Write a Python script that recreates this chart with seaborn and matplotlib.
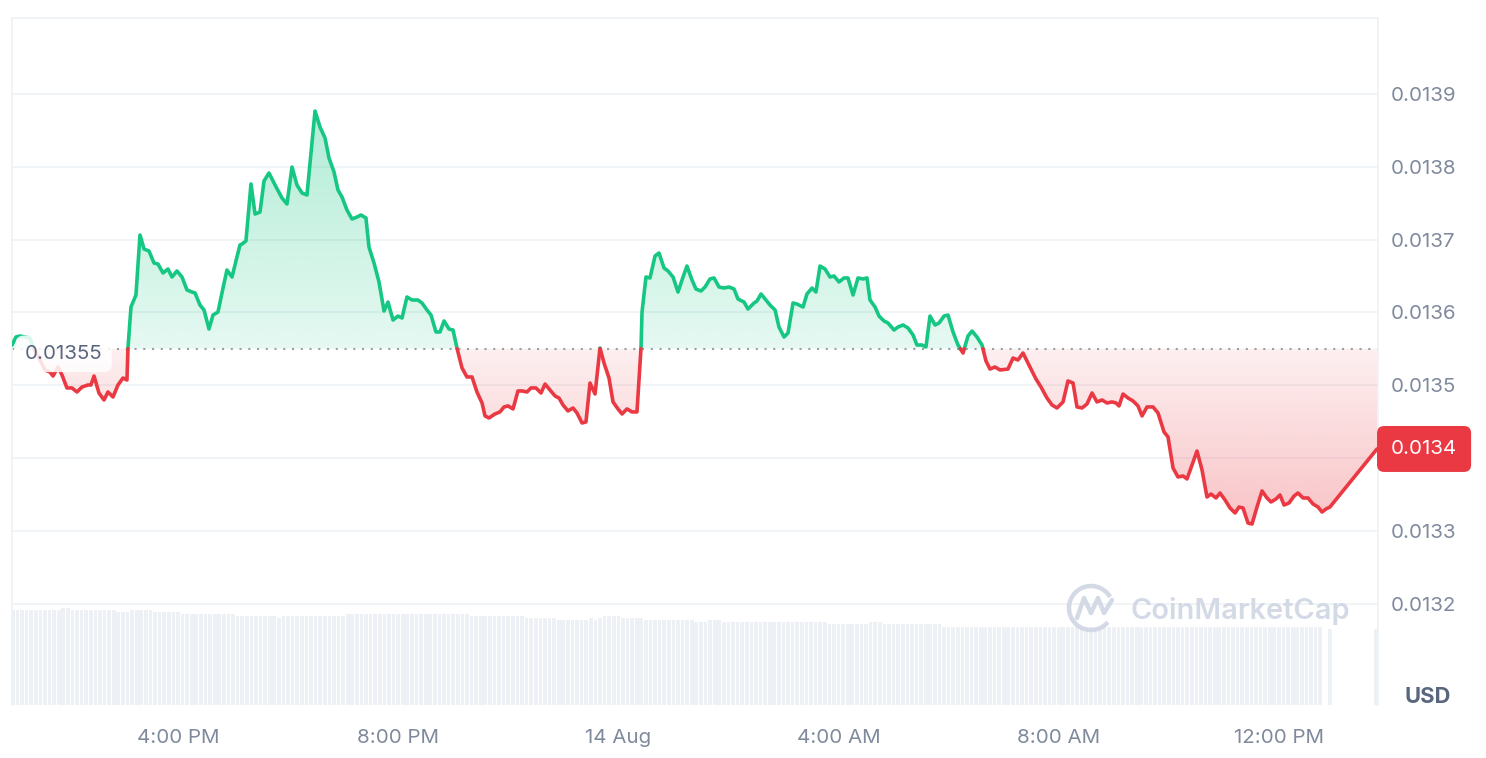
import numpy as np
import pandas as pd
import matplotlib
matplotlib.use("Agg")
import matplotlib.pyplot as plt
import matplotlib.colors as mcolors
import matplotlib.transforms as mtransforms
from matplotlib.path import Path
from matplotlib.patches import Arc
import seaborn as sns

# ---------------- data (time = minutes after 13 Aug 12:00) ----------------
minutes = [59.1, 63.4, 67.8, 78.7, 82.0, 89.6, 95.0, 100.5, 103.8, 109.2, 113.6, 119.0, 124.5, 129.9,
           135.4, 141.9, 145.2, 148.5, 153.9, 159.4, 163.7, 169.2, 174.6, 180.1, 184.4, 185.5, 188.8,
           194.2, 198.6, 203.0, 208.4, 213.9, 218.2, 223.7, 229.1, 233.5, 238.9, 244.4, 249.8, 255.3,
           258.6, 264.0, 268.4, 273.8, 278.2, 283.6, 289.1, 293.4, 298.9, 304.3, 307.6, 309.8, 314.1,
           319.6, 324.0, 329.4, 333.8, 339.2, 345.8, 353.4, 358.8, 364.3, 369.7, 375.2, 380.6, 389.4,
           394.8, 400.3, 404.6, 410.1, 414.4, 418.8, 424.2, 429.7, 435.1, 439.5, 444.9, 448.2, 453.7,
           459.1, 464.6, 468.9, 474.4, 479.8, 484.2, 489.6, 495.1, 501.6, 506.0, 511.4, 515.8, 521.2,
           525.6, 530.0, 535.4, 539.8, 544.1, 549.6, 555.0, 560.5, 565.9, 571.4, 574.7, 579.0, 585.6,
           591.0, 595.4, 599.7, 605.2, 610.6, 615.0, 620.4, 624.8, 630.2, 635.7, 640.1, 645.5, 651.0,
           655.3, 659.7, 665.1, 670.6, 674.9, 680.4, 684.7, 689.1, 694.6, 700.0, 704.4, 709.8, 714.2,
           719.6, 724.0, 729.4, 734.9, 740.3, 744.7, 745.8, 750.1, 754.5, 760.0, 764.3, 769.8, 774.1,
           779.6, 785.0, 790.5, 794.8, 800.3, 804.6, 810.1, 814.5, 819.9, 824.3, 829.7, 835.2, 840.6,
           846.1, 850.4, 857.0, 861.3, 867.9, 871.1, 875.5, 880.9, 885.3, 890.8, 895.1, 900.6, 904.9,
           910.4, 914.7, 921.3, 925.6, 931.1, 935.4, 939.8, 945.3, 950.7, 955.1, 960.5, 966.0, 970.3,
           975.8, 981.2, 986.7, 991.0, 994.3, 999.8, 1004.1, 1009.6, 1013.9, 1020.5, 1024.8, 1030.3,
           1035.7, 1041.2, 1045.5, 1051.0, 1055.3, 1059.7, 1065.2, 1069.5, 1075.0, 1079.3, 1084.8,
           1090.2, 1095.7, 1101.1, 1105.5, 1110.9, 1116.4, 1120.7, 1125.1, 1130.6, 1136.0, 1144.7,
           1150.2, 1155.6, 1161.1, 1166.5, 1175.2, 1180.7, 1187.2, 1192.7, 1198.1, 1204.7, 1210.1,
           1215.6, 1219.9, 1225.4, 1230.8, 1236.3, 1241.7, 1247.2, 1252.6, 1258.1, 1262.4, 1265.7,
           1270.1, 1275.5, 1281.0, 1286.4, 1290.8, 1296.2, 1302.8, 1308.2, 1314.8, 1319.1, 1324.6,
           1330.0, 1335.5, 1339.8, 1345.3, 1350.7, 1356.2, 1361.6, 1366.0, 1371.4, 1375.8, 1381.3,
           1386.7, 1392.2, 1396.5, 1400.9, 1406.3, 1410.7, 1416.1, 1421.6, 1427.0, 1431.4, 1436.8,
           1441.2, 1445.6, 1451.0, 1456.5, 1460.8, 1466.3, 1471.7, 1477.2, 1482.6, 1487.0, 1491.3,
           1495.6, 1546.9]

prices = [0.0135551, 0.0135661, 0.0135675, 0.0135647, 0.0135524, 0.0135345, 0.0135208, 0.0135180,
          0.0135125, 0.0135249, 0.0135139, 0.0134961, 0.0134961, 0.0134906, 0.0134974, 0.0135002,
          0.0135002, 0.0135125, 0.0134892, 0.0134796, 0.0134906, 0.0134837, 0.0135002, 0.0135098,
          0.0135070, 0.0135510, 0.0136073, 0.0136238, 0.0137062, 0.0136870, 0.0136842, 0.0136677,
          0.0136664, 0.0136540, 0.0136595, 0.0136485, 0.0136568, 0.0136485, 0.0136307, 0.0136279,
          0.0136266, 0.0136100, 0.0136032, 0.0135771, 0.0135963, 0.0136004, 0.0136334, 0.0136581,
          0.0136485, 0.0136760, 0.0136925, 0.0136938, 0.0136980, 0.0137763, 0.0137350, 0.0137378,
          0.0137804, 0.0137914, 0.0137749, 0.0137570, 0.0137488, 0.0137996, 0.0137749, 0.0137639,
          0.0137612, 0.0138765, 0.0138546, 0.0138394, 0.0138120, 0.0137927, 0.0137680, 0.0137584,
          0.0137405, 0.0137282, 0.0137309, 0.0137337, 0.0137296, 0.0136897, 0.0136677, 0.0136417,
          0.0136018, 0.0136141, 0.0135894, 0.0135949, 0.0135922, 0.0136211, 0.0136169, 0.0136169,
          0.0136128, 0.0136032, 0.0135963, 0.0135730, 0.0135730, 0.0135881, 0.0135771, 0.0135757,
          0.0135510, 0.0135235, 0.0135112, 0.0135112, 0.0134906, 0.0134755, 0.0134577, 0.0134549,
          0.0134604, 0.0134632, 0.0134700, 0.0134714, 0.0134673, 0.0134920, 0.0134920, 0.0134906,
          0.0134961, 0.0134961, 0.0134892, 0.0135015, 0.0134933, 0.0134851, 0.0134823, 0.0134727,
          0.0134645, 0.0134686, 0.0134618, 0.0134480, 0.0134494, 0.0135029, 0.0134878, 0.0135510,
          0.0135303, 0.0135098, 0.0134769, 0.0134673, 0.0134604, 0.0134673, 0.0134632, 0.0134632,
          0.0135510, 0.0136004, 0.0136485, 0.0136472, 0.0136774, 0.0136815, 0.0136609, 0.0136568,
          0.0136485, 0.0136279, 0.0136485, 0.0136636, 0.0136444, 0.0136320, 0.0136293, 0.0136348,
          0.0136458, 0.0136472, 0.0136348, 0.0136334, 0.0136348, 0.0136320, 0.0136183, 0.0136141,
          0.0136045, 0.0136128, 0.0136155, 0.0136252, 0.0136169, 0.0136100, 0.0136032, 0.0135798,
          0.0135661, 0.0135716, 0.0136128, 0.0136114, 0.0136073, 0.0136252, 0.0136334, 0.0136279,
          0.0136636, 0.0136595, 0.0136485, 0.0136499, 0.0136417, 0.0136472, 0.0136472, 0.0136238,
          0.0136472, 0.0136458, 0.0136472, 0.0136169, 0.0136073, 0.0135949, 0.0135881, 0.0135853,
          0.0135757, 0.0135798, 0.0135826, 0.0135785, 0.0135689, 0.0135551, 0.0135551, 0.0135524,
          0.0135949, 0.0135826, 0.0135853, 0.0135949, 0.0135963, 0.0135730, 0.0135551, 0.0135441,
          0.0135675, 0.0135743, 0.0135661, 0.0135551, 0.0135331, 0.0135221, 0.0135249, 0.0135208,
          0.0135221, 0.0135372, 0.0135345, 0.0135441, 0.0135303, 0.0135084, 0.0134974, 0.0134823,
          0.0134727, 0.0134686, 0.0134769, 0.0135057, 0.0135029, 0.0134700, 0.0134686, 0.0134741,
          0.0134892, 0.0134769, 0.0134796, 0.0134755, 0.0134769, 0.0134755, 0.0134714, 0.0134878,
          0.0134823, 0.0134782, 0.0134714, 0.0134577, 0.0134700, 0.0134700, 0.0134618, 0.0134356,
          0.0134288, 0.0133862, 0.0133738, 0.0133752, 0.0133711, 0.0133903, 0.0134095, 0.0133835,
          0.0133463, 0.0133504, 0.0133450, 0.0133518, 0.0133422, 0.0133312, 0.0133244, 0.0133326,
          0.0133312, 0.0133106, 0.0133092, 0.0133326, 0.0133546, 0.0133450, 0.0133395, 0.0133436,
          0.0133491, 0.0133353, 0.0133381, 0.0133477, 0.0133518, 0.0133450, 0.0133450, 0.0133367,
          0.0133326, 0.0133257, 0.0133298, 0.0133326, 0.0134123]

open_price = 0.01355
last_label = "0.0134"

# volume read as runs of equal-height 5-minute bars (arbitrary units)
vol_levels = [947, 967, 947, 927, 947, 927, 910, 887, 867, 887, 910,
              910, 887, 867, 847, 867, 847, 867, 887, 867, 847, 827, 847, 827, 807, 827, 807,
              807, 783]
vol_counts = [11, 2, 10, 3, 5, 6, 12, 9, 1, 14, 25,
              2, 12, 7, 7, 1, 1, 1, 4, 5, 11, 3, 3, 23, 9, 3, 7,
              6, 83]
vol_extra_minutes = [1496.0, 1546.0]
vol_extra_values = [763, 763]

# the 0.0134 tick label is hidden behind the last-price tag in the reference
ytick_values = [0.0132, 0.0133, 0.0134, 0.0135, 0.0136, 0.0137, 0.0138, 0.0139]
ytick_labels = ["0.0132", "0.0133", "", "0.0135", "0.0136", "0.0137", "0.0138", "0.0139"]
xtick_minutes = [240, 480, 720, 960, 1200, 1440]
xtick_labels = ["4:00 PM", "8:00 PM", "14 Aug", "4:00 AM", "8:00 AM", "12:00 PM"]

# ---------------- style ----------------
sns.set_theme(style="white")
plt.rcParams["font.family"] = ["Inter", "DejaVu Sans"]

GREEN = "#16c784"
RED = "#ea3943"
GRID = "#eff2f5"
TICK = "#808a9d"
DARK = "#58667e"

W, H = 1486, 758
fig = plt.figure(figsize=(W / 100, H / 100), dpi=100)
fig.patch.set_facecolor("white")

L, R, T, B = 12, 1378, 18, 705
rect = [L / W, 1 - B / H, (R - L) / W, (B - T) / H]
ax_vol = fig.add_axes(rect, zorder=0)
ax = fig.add_axes(rect, zorder=1)
ax.patch.set_alpha(0)

XMIN, XMAX = 59.1, 1548.0
YMIN, YMAX = 0.0130606, 0.0140043

# ---------------- volume ----------------
vol_vals = np.repeat(vol_levels, vol_counts)
vol_t = 60.0 + 5.0 * np.arange(len(vol_vals))
vol_df = pd.DataFrame({"t": np.concatenate([vol_t, vol_extra_minutes]),
                       "v": np.concatenate([vol_vals, vol_extra_values])})
ax_vol.bar(vol_df["t"], vol_df["v"], width=4.0, color="#edf0f4", linewidth=0)
ax_vol.set_xlim(XMIN, XMAX)
ax_vol.set_ylim(0, 6870)
ax_vol.axis("off")

# ---------------- price line split at the open price ----------------
t = np.array(minutes)
p = np.array(prices)
rows = []
seg = 0
side = "up" if p[0] >= open_price else "down"
for i in range(len(t)):
    if i > 0:
        s = "up" if p[i] >= open_price else "down"
        if s != side:
            frac = (open_price - p[i - 1]) / (p[i] - p[i - 1])
            tc = t[i - 1] + frac * (t[i] - t[i - 1])
            rows.append((tc, open_price, seg, side))
            seg += 1
            side = s
            rows.append((tc, open_price, seg, side))
    rows.append((t[i], p[i], seg, side))
df = pd.DataFrame(rows, columns=["t", "p", "seg", "side"])


def gradient_fill(mask, color, y0, y1, a0, a1):
    coll = ax.fill_between(t, p, open_price, where=mask, interpolate=True,
                           facecolor="none", edgecolor="none")
    paths = coll.get_paths()
    rgb = mcolors.to_rgb(color)
    n = 256
    img = np.zeros((n, 1, 4))
    img[:, 0, :3] = rgb
    img[:, 0, 3] = np.linspace(a0, a1, n)
    im = ax.imshow(img, extent=[XMIN, XMAX, y0, y1], origin="lower", aspect="auto",
                   interpolation="bilinear", zorder=1)
    im.set_clip_path(Path.make_compound_path(*paths), ax.transData)


gradient_fill(p >= open_price, GREEN, open_price, p.max(), 0.11, 0.33)
gradient_fill(p <= open_price, RED, p.min(), open_price, 0.30, 0.08)

sns.lineplot(data=df, x="t", y="p", hue="side", units="seg", estimator=None, sort=False,
             palette={"up": GREEN, "down": RED}, linewidth=2.6, legend=False, ax=ax,
             zorder=3, solid_joinstyle="round", solid_capstyle="round")

ax.axhline(open_price, color="#9aa0aa", linestyle=(0, (1, 3.2)), linewidth=1.5, zorder=2)

ax.set_xlim(XMIN, XMAX)
ax.set_ylim(YMIN, YMAX)

ax.set_xlabel("")
ax.set_ylabel("")
ax.yaxis.tick_right()
ax.set_yticks(ytick_values)
ax.set_yticklabels(ytick_labels)
ax.set_xticks(xtick_minutes)
ax.set_xticklabels(xtick_labels)
ax.tick_params(axis="y", length=0, pad=9.5, labelsize=14.8, labelcolor=TICK)
ax.tick_params(axis="x", length=0, pad=17, labelsize=14.8, labelcolor=TICK)
ax.yaxis.grid(True, color=GRID, linewidth=1.2, zorder=0)
ax.xaxis.grid(False)
ax.set_axisbelow(True)
for name in ["left", "top", "right"]:
    ax.spines[name].set_visible(True)
    ax.spines[name].set_color(GRID)
    ax.spines[name].set_linewidth(1.2)
ax.spines["bottom"].set_visible(False)

# open price label (left)
ax.text((25 - L) / (R - L), 0.0135430, "0.01355",
        transform=mtransforms.blended_transform_factory(ax.transAxes, ax.transData),
        ha="left", va="center", fontsize=14.8, color=DARK, zorder=6,
        bbox=dict(boxstyle="round,pad=0.45,rounding_size=0.4", fc="white", ec="none", alpha=0.85))

# last price label (right)
ax.text((1391 - L) / (R - L), p[-1], last_label,
        transform=mtransforms.blended_transform_factory(ax.transAxes, ax.transData),
        ha="left", va="center", fontsize=14.8, color="white", zorder=6, clip_on=False,
        bbox=dict(boxstyle="round,pad=0.68,rounding_size=0.35", fc=RED, ec="none"))

# overlay for watermark and currency text (pixel coordinates)
ov = fig.add_axes([0, 0, 1, 1], zorder=5)
ov.set_xlim(0, W)
ov.set_ylim(H, 0)
ov.axis("off")
ov.patch.set_alpha(0)
WM = "#cfd6e4"
ov.add_patch(Arc((1091, 608), 44, 44, theta1=40, theta2=330, color=WM, lw=3.2, alpha=0.9))
ov.plot([1077, 1084, 1091, 1098, 1104, 1112], [618, 598, 613, 598, 613, 600],
        color=WM, lw=3.2, alpha=0.9, solid_joinstyle="round", solid_capstyle="round")
ov.text(1130, 619, "CoinMarketCap", fontsize=20.9, fontweight="semibold", color=WM,
        alpha=0.9, ha="left", va="baseline")
ov.text(1428, 697, "USD", fontsize=15.8, fontweight="bold", color=DARK, ha="center", va="center")

fig.savefig("out.png", dpi=100, facecolor="white")
